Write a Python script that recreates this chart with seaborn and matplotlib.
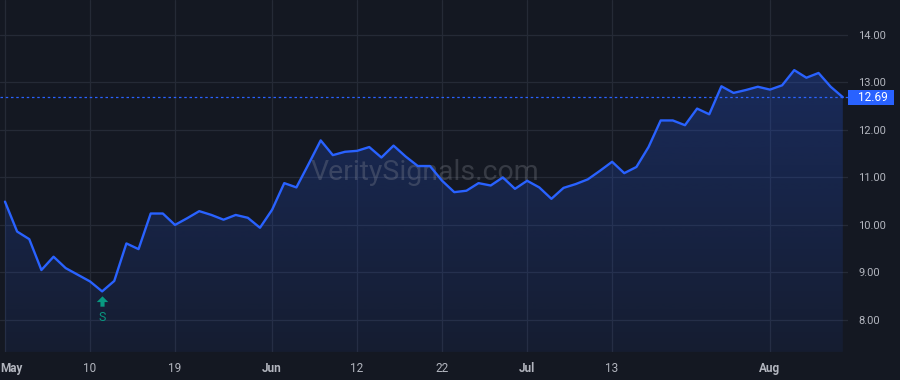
import numpy as np
import pandas as pd
import matplotlib
matplotlib.use("Agg")
import matplotlib.pyplot as plt
import seaborn as sns
from matplotlib import transforms
from matplotlib.patches import Rectangle

# ---------------- data ----------------
holidays = ["2023-05-29", "2023-06-19", "2023-07-04"]
dates = pd.bdate_range("2023-05-01", "2023-08-09", freq="C", holidays=holidays)

prices = [
    10.49, 9.86, 9.70, 9.05, 9.33, 9.09, 8.95, 8.81, 8.60, 8.82,
    9.61, 9.49, 10.24, 10.24, 10.00, 10.14, 10.29, 10.21, 10.11, 10.21,
    10.15, 9.94, 10.32, 10.88, 10.79, 11.28, 11.78, 11.47, 11.54, 11.56,
    11.64, 11.42, 11.67, 11.44, 11.24, 11.24, 10.93, 10.69, 10.72, 10.88,
    10.83, 11.00, 10.76, 10.93, 10.79, 10.55, 10.78, 10.86, 10.96, 11.14,
    11.33, 11.09, 11.22, 11.64, 12.20, 12.20, 12.10, 12.45, 12.33, 12.92,
    12.78, 12.84, 12.91, 12.85, 12.94, 13.26, 13.10, 13.20, 12.91, 12.69,
]

tick_dates = ["2023-05-01", "2023-05-10", "2023-05-19", "2023-06-01", "2023-06-12",
              "2023-06-22", "2023-07-03", "2023-07-13", "2023-08-01"]
tick_labels = ["May", "10", "19", "Jun", "12", "22", "Jul", "13", "Aug"]
month_labels = {"May", "Jun", "Jul", "Aug"}

y_ticks = [8, 9, 10, 11, 12, 13, 14]

signal_date = "2023-05-11"
signal_label = "S"

watermark = "VeritySignals.com"

# ---------------- style ----------------
BG = "#141822"
GRID = "#252a36"
LINE = "#2962ff"
TXT = "#b2b5be"
GREEN = "#089981"

sns.set_theme(style="dark")
plt.rcParams["font.family"] = ["Roboto", "DejaVu Sans"]

df = pd.DataFrame({"idx": np.arange(len(dates)), "date": dates, "price": prices})
pos = {d.strftime("%Y-%m-%d"): i for i, d in enumerate(dates)}

fig = plt.figure(figsize=(9, 3.8), dpi=100, facecolor=BG)
ax = fig.add_axes([0, 0.074, 0.942, 0.926])
ax.set_facecolor(BG)

xmin, xmax = -0.41, len(dates) - 1 + 0.41
ymin, ymax = 7.326, 14.737

# gradient fill under the line
poly = ax.fill_between(df["idx"], df["price"], ymin, color="none", lw=0)
n = 256
alpha = np.linspace(0.07, 0.30, n)
rgba = np.zeros((n, 1, 4))
rgba[..., 0] = 41 / 255
rgba[..., 1] = 98 / 255
rgba[..., 2] = 255 / 255
rgba[:, 0, 3] = alpha
im = ax.imshow(rgba, extent=[xmin, xmax, ymin, ymax], origin="lower",
               aspect="auto", zorder=1, interpolation="bilinear")
im.set_clip_path(poly.get_paths()[0], transform=ax.transData)

sns.lineplot(data=df, x="idx", y="price", ax=ax, color=LINE, linewidth=1.7,
             zorder=3)

last = prices[-1]
ax.axhline(last, color=LINE, lw=0.9, ls=(0, (2, 2.2)), zorder=2)

ax.set_xlim(xmin, xmax)
ax.set_ylim(ymin, ymax)

# grid
xt = [pos[d] for d in tick_dates]
ax.set_xticks(xt)
ax.set_xticklabels(tick_labels)
ax.set_yticks(y_ticks)
ax.set_yticklabels([f"{v:.2f}" for v in y_ticks])
ax.yaxis.tick_right()
ax.grid(True, color=GRID, lw=0.9)
ax.tick_params(axis="both", length=0, colors=TXT)
ax.tick_params(axis="x", pad=7, labelsize=8.5)
ax.tick_params(axis="y", pad=7.5, labelsize=8)
for lab in ax.get_xticklabels():
    if lab.get_text() in month_labels:
        lab.set_fontweight("bold")
first = ax.get_xticklabels()[0]
first.set_horizontalalignment("left")
first.set_transform(first.get_transform() +
                    transforms.ScaledTranslation(-5 / 100, 0, fig.dpi_scale_trans))
for s in ax.spines.values():
    s.set_visible(False)
ax.set_xlabel("")
ax.set_ylabel("")

# last price label
bt = transforms.blended_transform_factory(ax.transAxes, ax.transData)
ax.add_patch(Rectangle((1.0, last - 0.155), 46 / 848, 0.31, transform=bt,
                       facecolor=LINE, edgecolor="none", clip_on=False, zorder=5))
ax.text(1.0, last, f"{last:.2f}", color="white", fontsize=8.5, va="center",
        ha="left", zorder=6,
        transform=bt + transforms.ScaledTranslation(10 / 100, 0, fig.dpi_scale_trans))

# signal marker (up arrow + label)
si = pos[signal_date]
sv = prices[si]
arrow_verts = [(0, 0.45), (0.5, -0.05), (0.18, -0.05), (0.18, -0.45), (-0.18, -0.45),
               (-0.18, -0.05), (-0.5, -0.05), (0, 0.45)]
tr_arrow = transforms.offset_copy(ax.transData, fig, x=0, y=-6.6, units="points")
ax.plot([si], [sv], marker=arrow_verts, markersize=8.3, color=GREEN,
        markeredgewidth=0, linestyle="none", transform=tr_arrow, zorder=4)
ax.annotate(signal_label, xy=(si, sv), xytext=(0, -19), textcoords="offset points",
            ha="center", va="center", color=GREEN, fontsize=9, zorder=4)

# watermark
ax.text(0.501, 0.509, watermark, transform=ax.transAxes, ha="center", va="center",
        fontsize=20.5, color="#9598a1", alpha=0.27, zorder=2)

fig.savefig("out.png", dpi=100, facecolor=BG)
